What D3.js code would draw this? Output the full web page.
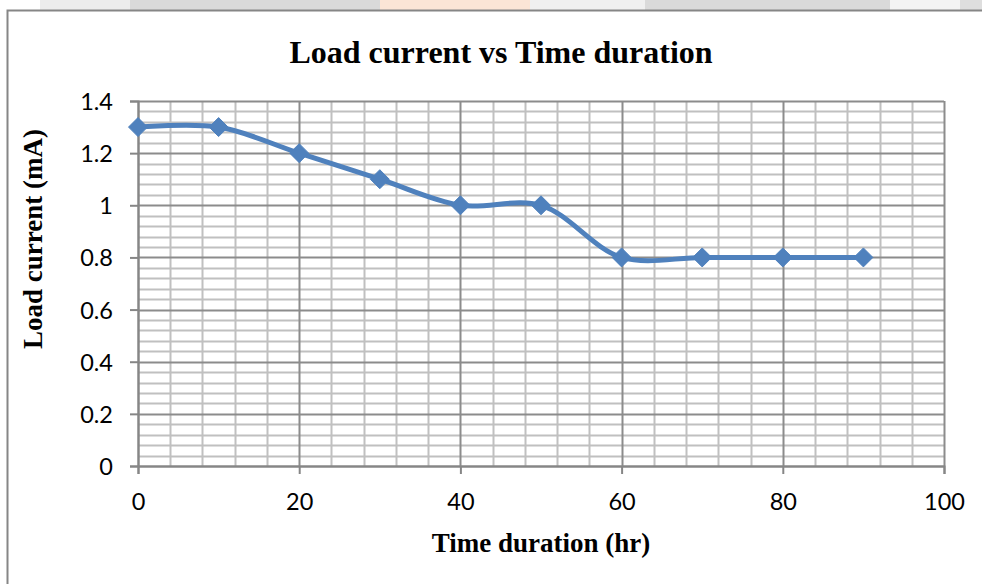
<!DOCTYPE html>
<html lang="en">

<head>
    <meta charset="UTF-8">
    <title>Load current vs Time duration</title>
    <style>
        html,
        body {
            margin: 0;
            background: #fff;
        }

        .tick text {
            font-family: Lato, "Open Sans", sans-serif;
            font-size: 23.5px;
            fill: #000;
        }
    </style>
</head>

<body>
    <div class="chart"></div>

    <script src="https://d3js.org/d3.v7.min.js"></script>
    <script>
        // data
        var hours = [0, 10, 20, 30, 40, 50, 60, 70, 80, 90];
        var current = [1.3, 1.3, 1.2, 1.1, 1.0, 1.0, 0.8, 0.8, 0.8, 0.8];
        var xTicks = [0, 20, 40, 60, 80, 100];
        var yTicks = [0, 0.2, 0.4, 0.6, 0.8, 1, 1.2, 1.4];

        var W = 982, H = 584;
        var margin = { top: 101, right: 38, bottom: 118, left: 138 },
            width = W - margin.left - margin.right,
            height = H - margin.top - margin.bottom;

        var root = d3.select('.chart')
            .append('svg')
            .attr('width', W)
            .attr('height', H);

        // watermark strip at the very top (scanned page background)
        var strip = [
            { x: 40, w: 90, c: '#ececec' },
            { x: 130, w: 250, c: '#dadada' },
            { x: 380, w: 150, c: '#fbe5d6' },
            { x: 530, w: 115, c: '#f0f0f0' },
            { x: 645, w: 245, c: '#dadada' },
            { x: 890, w: 70, c: '#f3f3f3' },
            { x: 960, w: 22, c: '#dedede' }
        ];
        root.selectAll('rect.strip').data(strip).enter().append('rect')
            .attr('class', 'strip')
            .attr('x', d => d.x).attr('y', 0)
            .attr('width', d => d.w).attr('height', 10)
            .attr('fill', d => d.c);

        // chart border (right and bottom run off the page)
        root.append('path')
            .attr('d', `M${W + 2},10.5 H7.5 V${H + 2}`)
            .attr('fill', 'none')
            .attr('stroke', '#868686')
            .attr('stroke-width', 2);

        var svg = root.append('g')
            .attr('transform', `translate(${margin.left}, ${margin.top})`);

        var xScale = d3.scaleLinear().domain([0, 100]).range([0, width]);
        var yScale = d3.scaleLinear().domain([0, 1.4]).range([height, 0]);

        // minor gridlines
        var xMinor = d3.range(0, 101, 4).filter(v => v % 20 !== 0);
        var yMinor = d3.range(0, 36).map(i => i * 0.04).filter((v, i) => i % 5 !== 0);

        svg.append('g').selectAll('line').data(xMinor).enter().append('line')
            .attr('x1', d => Math.round(xScale(d)) + 0.5).attr('x2', d => Math.round(xScale(d)) + 0.5)
            .attr('y1', 0).attr('y2', height)
            .attr('stroke', '#c0c0c0').attr('stroke-width', 2);

        svg.append('g').selectAll('line').data(yMinor).enter().append('line')
            .attr('y1', d => Math.round(yScale(d)) + 0.5).attr('y2', d => Math.round(yScale(d)) + 0.5)
            .attr('x1', 0).attr('x2', width)
            .attr('stroke', '#c0c0c0').attr('stroke-width', 2);

        // major gridlines
        svg.append('g').selectAll('line').data(xTicks).enter().append('line')
            .attr('x1', d => Math.round(xScale(d)) + 0.5).attr('x2', d => Math.round(xScale(d)) + 0.5)
            .attr('y1', 0).attr('y2', height)
            .attr('stroke', '#8c8c8c').attr('stroke-width', 2);

        svg.append('g').selectAll('line').data(yTicks).enter().append('line')
            .attr('y1', d => Math.round(yScale(d)) + 0.5).attr('y2', d => Math.round(yScale(d)) + 0.5)
            .attr('x1', 0).attr('x2', width)
            .attr('stroke', '#8c8c8c').attr('stroke-width', 2);

        // axes
        var xAxis = d3.axisBottom(xScale).tickValues(xTicks).tickSize(8).tickPadding(19)
            .tickFormat(d3.format('d'));
        var gx = svg.append('g').attr('transform', `translate(0, ${height})`).call(xAxis);

        var yAxis = d3.axisLeft(yScale).tickValues(yTicks).tickSize(8).tickPadding(17)
            .tickFormat(d => d3.format('')(+d.toFixed(1)));
        var gy = svg.append('g').call(yAxis);

        [gx, gy].forEach(g => {
            g.select('.domain').attr('stroke', '#868686').attr('stroke-width', 2);
            g.selectAll('.tick line').attr('stroke', '#868686').attr('stroke-width', 2);
        });
        gy.selectAll('.tick text').attr('dy', '0.36em');

        // series
        var pts = hours.map((h, i) => ({ x: h, y: current[i] }));
        var line = d3.line()
            .x(d => xScale(d.x))
            .y(d => yScale(d.y))
            .curve(d3.curveCatmullRom.alpha(0.5));

        svg.append('path')
            .attr('d', line(pts))
            .attr('fill', 'none')
            .attr('stroke', '#4f81bd')
            .attr('stroke-width', 5)
            .attr('stroke-linejoin', 'round');

        var diamond = d3.symbol().type(d3.symbolDiamond2).size(230);
        svg.selectAll('path.marker').data(pts).enter().append('path')
            .attr('class', 'marker')
            .attr('d', diamond)
            .attr('transform', d => `translate(${xScale(d.x)}, ${yScale(d.y)})`)
            .attr('fill', '#4f81bd')
            .attr('stroke', '#4f81bd')
            .attr('stroke-width', 1);

        // titles
        root.append('text')
            .attr('x', 501).attr('y', 63)
            .attr('text-anchor', 'middle')
            .style('font-family', '"Liberation Serif", "Times New Roman", serif')
            .style('font-weight', 'bold')
            .style('font-size', '32px')
            .text('Load current vs Time duration');

        root.append('text')
            .attr('x', 541).attr('y', 552)
            .attr('text-anchor', 'middle')
            .style('font-family', '"Liberation Serif", "Times New Roman", serif')
            .style('font-weight', 'bold')
            .style('font-size', '27px')
            .text('Time duration (hr)');

        root.append('text')
            .attr('transform', 'translate(42, 239) rotate(-90)')
            .attr('text-anchor', 'middle')
            .style('font-family', '"Liberation Serif", "Times New Roman", serif')
            .style('font-weight', 'bold')
            .style('font-size', '27px')
            .text('Load current (mA)');
    </script>
</body>

</html>
